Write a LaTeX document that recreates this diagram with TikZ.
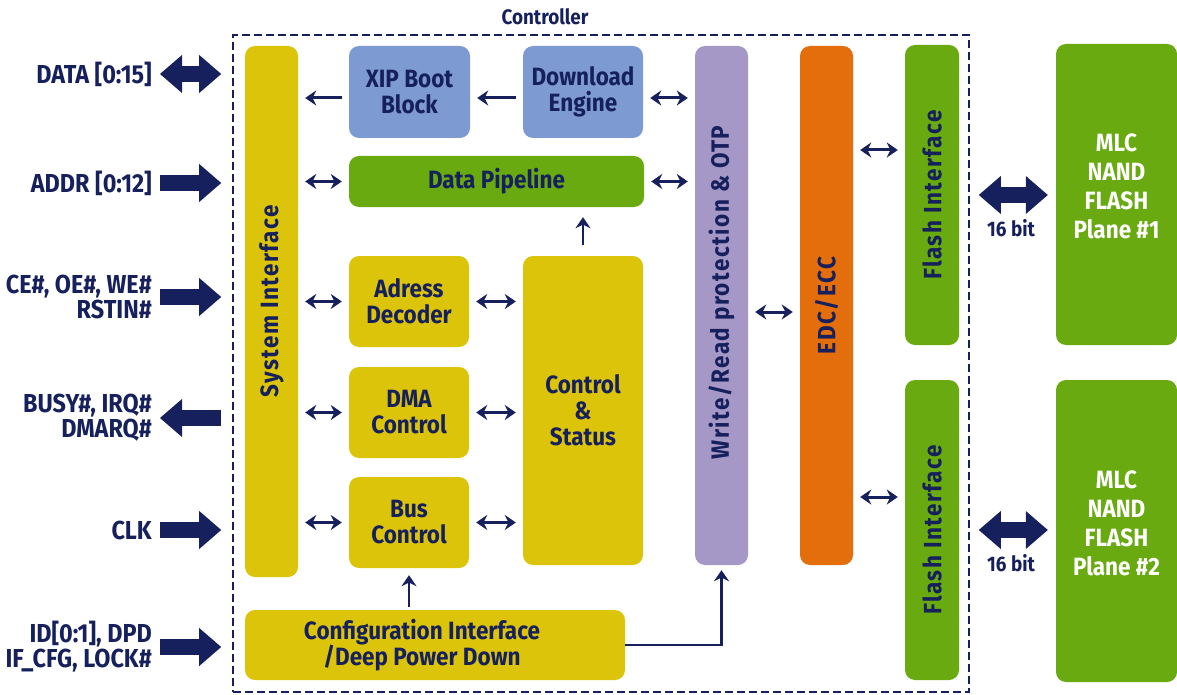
\documentclass[tikz,border=0pt]{standalone}
\usepackage{fontspec}
\setmainfont{Fira Sans}[FakeStretch=0.9]
\newfontfamily\spaced{Fira Sans}[FakeStretch=0.9,LetterSpace=6]
\usetikzlibrary{arrows.meta}

\definecolor{navy}{RGB}{22,32,92}
\definecolor{yel}{RGB}{220,196,10}
\definecolor{blu}{RGB}{125,155,210}
\definecolor{grn}{RGB}{104,170,16}
\definecolor{vio}{RGB}{165,152,198}
\definecolor{ora}{RGB}{228,110,12}

\tikzset{
  blk/.style={rounded corners=10pt, inner sep=0pt, text=navy, align=center,
    font=\bfseries\fontsize{25}{26}\selectfont},
  vtext/.style={rotate=90, text=navy, font=\spaced\bfseries\fontsize{25}{26}\selectfont},
  sig/.style={anchor=east, inner sep=0pt, text=navy, align=right,
    font=\bfseries\fontsize{26}{25}\selectfont},
  link/.style={draw=navy, line width=3pt, >={Stealth[length=11pt,width=15pt]},
    shorten <=7pt, shorten >=7pt},
  fat/.style={draw=navy, line width=16pt, >={Triangle[length=22pt,width=38pt,line width=0pt]}},
}

\begin{document}
\begin{tikzpicture}[x=1pt,y=-1pt]
\useasboundingbox (0,0) rectangle (1177,695);

\node[draw=navy, line width=1.6pt, dash pattern=on 8pt off 4pt, minimum width=736pt,
  minimum height=657pt] (ctrl) at (601,363.5) {};
\node[text=navy, font=\bfseries\fontsize{21}{22}\selectfont] (ctrltitle) at (545,17) {Controller};

\begin{scope}[every node/.style={blk}]
  \node[fill=yel, minimum width=53pt, minimum height=531pt,
    label={[yshift=10pt,vtext]center:System Interface}] (sysif) at (271.5,311.5) {};
  \node[fill=blu, minimum width=121pt, minimum height=92pt] (xip) at (409.5,92) {XIP Boot\\Block};
  \node[fill=blu, minimum width=120pt, minimum height=92pt] (dl) at (583,92) {Download\\Engine};
  \node[fill=grn, minimum width=295pt, minimum height=51pt] (pipe) at (496.5,181.5) {Data Pipeline};
  \node[fill=yel, minimum width=120pt, minimum height=91pt] (addr) at (409,301.5) {Adress\\Decoder};
  \node[fill=yel, minimum width=120pt, minimum height=91pt] (dma) at (409,412.5) {DMA\\Control};
  \node[fill=yel, minimum width=120pt, minimum height=91pt] (bus) at (409,522.5) {Bus\\Control};
  \node[fill=yel, minimum width=120pt, minimum height=309pt] (cs) at (583,410.5) {Control\\\&\\Status};
  \node[fill=yel, minimum width=380pt, minimum height=70pt,
    label={[xshift=-13pt,blk]center:Configuration Interface\\/Deep Power Down}] (cfg) at (435,645) {};
  \node[fill=vio, minimum width=53pt, minimum height=519pt,
    label={[yshift=13pt,vtext]center:Write/Read protection \& OTP}] (wr) at (721.5,305.5) {};
  \node[fill=ora, minimum width=53pt, minimum height=519pt,
    label={[vtext]center:EDC/ECC}] (edc) at (826.5,305.5) {};
  \node[fill=grn, minimum width=54pt, minimum height=300pt,
    label={[vtext]center:Flash Interface}] (fi1) at (932,195) {};
  \node[fill=grn, minimum width=54pt, minimum height=300pt,
    label={[vtext]center:Flash Interface}] (fi2) at (932,530) {};
  \node[fill=grn, minimum width=121pt, minimum height=301pt,
    label={[yshift=8pt,blk,text=white,font=\bfseries\fontsize{25}{29}\selectfont]center:MLC\\NAND\\FLASH\\Plane \#1}] (mlc1) at (1116.5,194.5) {};
  \node[fill=grn, minimum width=121pt, minimum height=302pt,
    label={[yshift=8pt,blk,text=white,font=\bfseries\fontsize{25}{29}\selectfont]center:MLC\\NAND\\FLASH\\Plane \#2}] (mlc2) at (1116.5,531) {};
\end{scope}

\begin{scope}[every node/.style={sig}]
  \node (lData) at (152,74) {DATA [0:15]};
  \node (lAddr) at (152,183) {ADDR [0:12]};
  \node (lCe) at (152,297) {CE\#, OE\#, WE\#\\RSTIN\#};
  \node (lBusy) at (152,418) {BUSY\#, IRQ\#\\DMARQ\#};
  \node (lClk) at (152,530) {CLK};
  \node (lId) at (152,647) {ID[0:1], DPD\\IF\_CFG, LOCK\#};
\end{scope}

\begin{scope}[every node/.style={text=navy, font=\bfseries\fontsize{21}{22}\selectfont}]
  \node (bit1) at (1011,228) {16 bit};
  \node (bit2) at (1011,563) {16 bit};
\end{scope}

\begin{scope}[shorten <=8pt, shorten >=11pt]
  \draw[fat,<->] (lData.east) -- (lData.east -| ctrl.west);
  \draw[fat,->] (lAddr.east) -- (lAddr.east -| ctrl.west);
  \draw[fat,->] (lCe.east) -- (lCe.east -| ctrl.west);
  \draw[fat,<-] (lBusy.east) -- (lBusy.east -| ctrl.west);
  \draw[fat,->] (lClk.east) -- (lClk.east -| ctrl.west);
  \draw[fat,->] (lId.east) -- (lId.east -| ctrl.west);
\end{scope}
\draw[fat,<->, shorten <=9pt, shorten >=8pt] (ctrl.east |- fi1) -- (mlc1.west |- fi1);
\draw[fat,<->, shorten <=9pt, shorten >=8pt] (ctrl.east |- fi2) -- (mlc2.west |- fi2);

\draw[link,->] (xip.west |- 0,98) -- (sysif.east |- 0,98);
\draw[link,->] (dl.west |- 0,98) -- (xip.east |- 0,98);
\draw[link,<->] (dl.east |- 0,98) -- (wr.west |- 0,98);
\draw[link,<->] (sysif.east |- pipe) -- (pipe.west);
\draw[link,<->] (pipe.east) -- (pipe.east -| wr.west);
\draw[link,<->] (sysif.east |- addr) -- (addr.west);
\draw[link,<->] (sysif.east |- dma) -- (dma.west);
\draw[link,<->] (sysif.east |- bus) -- (bus.west);
\draw[link,<->] (addr.east) -- (addr.east -| cs.west);
\draw[link,<->] (dma.east) -- (dma.east -| cs.west);
\draw[link,<->] (bus.east) -- (bus.east -| cs.west);
\draw[link,->, line width=2.4pt, shorten <=11pt, shorten >=10pt] (cs.north) -- (cs.north |- pipe.south);
\draw[link,->, line width=2.4pt, shorten <=3pt] (bus.south |- cfg.north) -- (bus.south);
\draw[link,->, line width=2.4pt, shorten <=0pt, shorten >=5pt] (cfg.east) -- (cfg.east -| wr.south) -- (wr.south);
\draw[link,<->] (wr.east |- 0,312) -- (edc.west |- 0,312);
\draw[link,<->] (edc.east |- 0,150) -- (fi1.west |- 0,150);
\draw[link,<->] (edc.east |- 0,497) -- (fi2.west |- 0,497);

\end{tikzpicture}
\end{document}
